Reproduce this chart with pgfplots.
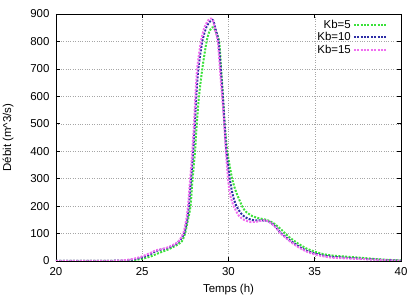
\documentclass[border=0pt]{standalone}
\usepackage{fontspec}
\setmainfont{Liberation Sans}
\usepackage{pgfplots}
\usepackage{pgfplotstable}
\pgfplotsset{compat=1.18}

\definecolor{kbfive}{RGB}{60,225,60}
\definecolor{kbten}{RGB}{45,45,165}
\definecolor{kbfifteen}{RGB}{240,110,240}

% Hydrographs: time (h), discharge (m^3/s)
\pgfplotstableread{
t q
20 0
21 0
22 0
23 0.3
24 1
24.5 3
25 8
25.5 17
26 30
26.5 42
27 58
27.3 72
27.48 100
27.65 150
27.8 200
27.92 300
28.06 400
28.16 500
28.29 600
28.48 700
28.73 800
28.9 838
29.08 852
29.25 838
29.46 800
29.57 700
29.68 600
29.78 500
29.93 400
30.21 300
30.45 250
30.79 200
31.0 180
31.4 163
31.8 155
32.2 150
32.6 138
33.0 118
33.5 88
34.0 65
34.5 46
35.0 34
35.5 25
36.0 20
37.0 15
38.0 10
39.0 5
40.0 2
}\kbfivetab

\pgfplotstableread{
t q
20 0
21 0
22 0
23 0.5
24 2
24.5 6
25 13
25.5 26
25.75 35
26 40
26.5 48
27 64
27.3 85
27.45 105
27.6 150
27.7 200
27.83 300
27.95 400
28.05 500
28.13 600
28.25 700
28.48 800
28.7 850
28.9 871
29.1 878
29.25 845
29.42 800
29.55 700
29.67 600
29.77 500
29.88 400
30.07 300
30.25 240
30.46 200
30.8 168
31.1 155
31.5 148
31.9 148
32.3 145
32.7 127
33.0 104
33.5 78
34.0 56
34.5 38
35.0 27
35.5 20
36.0 15
37.0 11
38.0 7
39.0 4
40.0 1
}\kbtentab

\pgfplotstableread{
t q
20 0
21 0
22 0
23 0.5
23.5 1
24 3
24.5 8
25 17
25.5 30
25.75 38
26 42
26.5 50
27 66
27.2 80
27.4 105
27.55 150
27.65 200
27.78 300
27.9 400
28.0 500
28.08 600
28.18 700
28.4 800
28.6 850
28.8 875
28.97 884
29.1 875
29.25 835
29.38 800
29.5 700
29.63 600
29.75 500
29.85 400
29.97 300
30.1 240
30.3 200
30.6 165
30.9 150
31.3 142
31.7 144
32.0 148
32.3 145
32.7 125
33.0 102
33.5 75
34.0 52
34.5 35
35.0 24
35.5 17
36.0 12
37.0 9
38.0 6
39.0 3
40.0 1
}\kbfifteentab

\begin{document}
\begin{tikzpicture}
\begin{axis}[
  scale only axis,
  width=345bp, height=247bp,
  xmin=20, xmax=40, ymin=0, ymax=900,
  xtick={20,25,...,40},
  ytick={0,100,...,900},
  font=\fontsize{11.5}{13}\selectfont,
  /pgf/number format/assume math mode=true,
  yticklabel style={xshift=-3bp},
  xticklabel style={yshift=-3bp},
  grid=major,
  major grid style={gray!70, dotted, line width=0.5bp},
  tick align=inside,
  major tick length=4bp,
  tick style={black, line width=0.6bp},
  axis line style={black, line width=0.8bp},
  xlabel={Temps (h)},
  ylabel={Débit (m\textasciicircum 3/s)},
  xlabel style={yshift=-2bp},
  ylabel style={yshift=10bp},
  legend style={draw=none, fill=none, at={(1,1)}, anchor=north east,
    xshift=-14bp, yshift=-4bp, inner sep=0pt, row sep=-1.5bp,
    font=\fontsize{11.5}{13}\selectfont},
  legend cell align=right,
  legend plot pos=right,
  legend image code/.code={\draw (0bp,0bp) -- (32bp,0bp);},
  every axis plot/.append style={line width=2bp, dash pattern=on 2bp off 1.4bp, line join=round},
]
\addplot[kbfive, smooth, tension=0.4] table[x=t, y=q] {\kbfivetab};
\addlegendentry{Kb=5}
\addplot[kbten, smooth, tension=0.4] table[x=t, y=q] {\kbtentab};
\addlegendentry{Kb=10}
\addplot[kbfifteen, smooth, tension=0.4] table[x=t, y=q] {\kbfifteentab};
\addlegendentry{Kb=15}
\end{axis}
\pgfresetboundingbox
\path[use as bounding box] ([shift={(-56bp,-37bp)}]current axis.south west) rectangle ([shift={(10bp,14bp)}]current axis.north east);
\end{tikzpicture}
\end{document}
